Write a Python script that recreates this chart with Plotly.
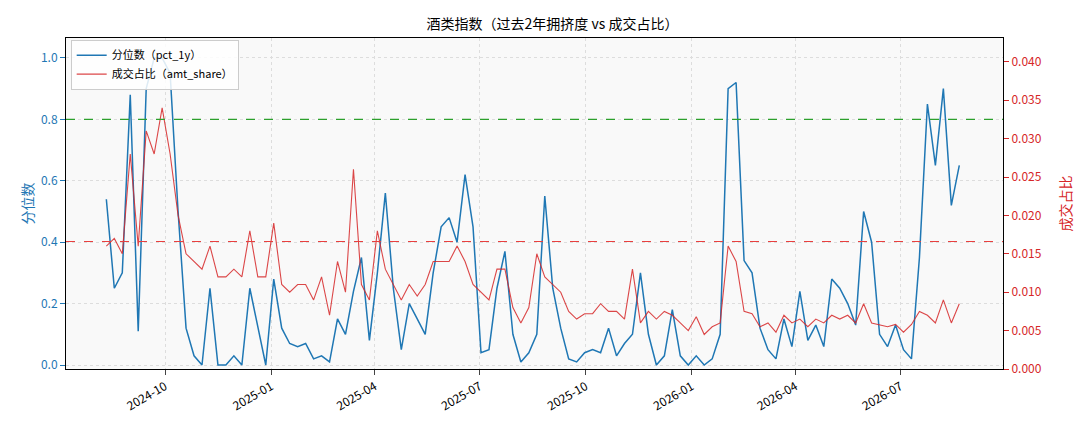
import pandas as pd
import plotly.graph_objects as go

dates = pd.date_range("2024-08-11", periods=108, freq="166h")

pct_1y = [0.54,0.25,0.30,0.88,0.11,0.90,1.0,1.0,0.95,0.5,0.12,0.03,0.0,0.25,0.0,0.0,0.03,0.0,0.25,0.12,
          0.0,0.28,0.12,0.07,0.06,0.07,0.02,0.03,0.01,0.15,0.10,0.24,0.35,0.08,0.3,0.56,0.25,0.05,0.2,
          0.15,0.10,0.30,0.45,0.48,0.40,0.62,0.45,0.04,0.05,0.25,0.37,0.10,0.01,0.04,0.10,0.55,0.25,0.12,
          0.02,0.01,0.04,0.05,0.04,0.12,0.03,0.07,0.10,0.30,0.10,0.0,0.03,0.18,0.03,0.0,0.03,0.0,0.02,0.10,
          0.9,0.92,0.34,0.30,0.12,0.05,0.02,0.15,0.06,0.24,0.08,0.13,0.06,0.28,0.25,0.20,0.13,0.50,0.40,
          0.1,0.06,0.13,0.05,0.02,0.35,0.85,0.65,0.9,0.52,0.65]

amt_share = [0.016,0.017,0.015,0.028,0.016,0.031,0.028,0.034,0.028,0.020,0.015,0.014,0.013,0.016,0.012,0.012,0.013,0.012,0.018,0.012,
             0.012,0.019,0.011,0.010,0.011,0.011,0.009,0.012,0.007,0.014,0.010,0.026,0.011,0.009,0.018,0.013,0.011,0.009,0.011,
             0.0095,0.011,0.014,0.014,0.014,0.016,0.014,0.011,0.010,0.009,0.013,0.013,0.008,0.006,0.008,0.015,0.012,0.011,0.010,
             0.0075,0.0065,0.0072,0.0072,0.0085,0.0075,0.0075,0.0065,0.013,0.006,0.0075,0.0065,0.0075,0.007,0.006,0.005,0.0068,0.0045,0.0055,0.006,
             0.016,0.014,0.0075,0.0072,0.0055,0.006,0.0048,0.007,0.006,0.0065,0.0055,0.0065,0.006,0.007,0.0065,0.007,0.006,0.0085,0.006,
             0.0058,0.0055,0.0058,0.0048,0.0058,0.0075,0.007,0.006,0.009,0.006,0.0085]

pct_high = 0.8
share_line = 0.0166

tick_vals = ["2024-10-01","2025-01-01","2025-04-01","2025-07-01","2025-10-01","2026-01-01","2026-04-01","2026-07-01"]
tick_text = ["2024-10","2025-01","2025-04","2025-07","2025-10","2026-01","2026-04","2026-07"]

BLUE = "#1f77b4"; RED = "#d62728"
fig = go.Figure()
fig.add_trace(go.Scatter(x=dates, y=pct_1y, mode="lines", name="分位数（pct_1y）",
                         line=dict(color=BLUE, width=1.5)))
fig.add_trace(go.Scatter(x=dates, y=amt_share, mode="lines", name="成交占比（amt_share）",
                         line=dict(color="rgba(214,39,40,0.85)", width=1.1), yaxis="y2"))
fig.add_shape(type="line", xref="paper", x0=0, x1=1, yref="y", y0=pct_high, y1=pct_high,
              line=dict(color="#2ca02c", width=1.1, dash="dash"), layer="above")
fig.add_shape(type="line", xref="paper", x0=0, x1=1, yref="y2", y0=share_line, y1=share_line,
              line=dict(color="#e8403f", width=1.1, dash="dash"), layer="above")

font = "Noto Sans CJK SC, DejaVu Sans"
fig.update_layout(
    width=1089, height=429, margin=dict(l=58, r=94, t=30, b=68, autoexpand=False),
    paper_bgcolor="white", plot_bgcolor="#f9f9f9",
    font=dict(family=font, size=12, color="black"),
    title=dict(text="酒类指数（过去2年拥挤度 vs 成交占比）", x=0.5, xanchor="center", y=0.975, yanchor="top",
               font=dict(size=14)),
    showlegend=True,
    legend=dict(x=0.005, y=0.995, xanchor="left", yanchor="top", bgcolor="rgba(255,255,255,0.85)",
                bordercolor="#cccccc", borderwidth=1, font=dict(size=11)),
    xaxis=dict(range=["2024-07-07", "2026-09-28"], tickvals=tick_vals, ticktext=tick_text, tickangle=-30,
               showgrid=True, gridcolor="#dddddd", griddash="dot", showline=True, linecolor="black", mirror=True,
               ticks="outside", zeroline=False, automargin=False),
    yaxis=dict(range=[-0.013, 1.065], tickvals=[0,0.2,0.4,0.6,0.8,1.0], ticktext=["0.0","0.2","0.4","0.6","0.8","1.0"],
               title=dict(text="分位数", font=dict(color=BLUE), standoff=4), tickfont=dict(color=BLUE),
               showgrid=True, gridcolor="#dddddd", griddash="dot", showline=True, linecolor="black",
               ticks="outside", tickcolor=BLUE, zeroline=False, automargin=False),
    yaxis2=dict(range=[0, 0.0431], overlaying="y", side="right",
                tickvals=[i*0.005 for i in range(9)], ticktext=["%.3f" % (i*0.005) for i in range(9)],
                title=dict(text="成交占比", font=dict(color=RED), standoff=20), tickfont=dict(color=RED),
                showgrid=False, showline=True, linecolor="black", ticks="outside", tickcolor=RED,
                zeroline=False, automargin=False),
)
fig.write_html("out.html")
